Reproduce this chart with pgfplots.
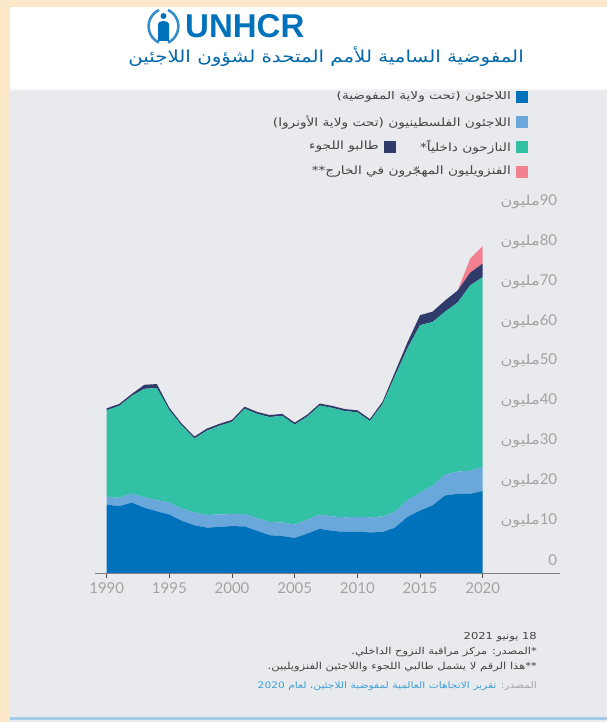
\documentclass[border=0pt]{standalone}
\usepackage{fontspec}
\setmainfont{Lato}
\newfontfamily\arabicfont[Script=Arabic, FakeStretch=1.2]{DejaVu Sans}
\newfontfamily\logofont{Liberation Sans}
\usepackage{pgfplots}
\usepackage{pgfplotstable}
\pgfplotsset{compat=1.18}
\TeXXeTstate=1

\definecolor{peach}{HTML}{FBE8C9}
\definecolor{panel}{HTML}{E8EAED}
\definecolor{unblue}{HTML}{0072BC}
\definecolor{ltblue}{HTML}{6AA8DC}
\definecolor{idpcol}{HTML}{33C1A6}
\definecolor{navyc}{HTML}{2F3C6B}
\definecolor{pinkv}{HTML}{F3808F}
\definecolor{ticklab}{HTML}{A3A3A3}
\definecolor{txt}{HTML}{444444}
\definecolor{linkc}{HTML}{3AA0D8}

\newcommand\mil[1]{{\arabicfont\fontsize{13.5}{14}\selectfont\beginR مليون\endR}#1}
\newcommand\ar[1]{{\arabicfont\beginR #1\endR}}

\pgfplotstableread{
year ref unrwa idp asy ven
1990 17.2 2.0 21.7 0.5 0
1991 16.8 2.1 23.1 0.5 0
1992 17.7 2.3 24.5 0.5 0
1993 16.4 2.6 27.3 1.0 0
1994 15.5 2.8 28.2 1.0 0
1995 14.7 3.0 23.2 0.6 0
1996 13.1 3.1 20.8 0.5 0
1997 12.0 3.2 18.6 0.5 0
1998 11.4 3.2 21.2 0.5 0
1999 11.6 3.1 22.3 0.5 0
2000 11.8 3.0 23.2 0.5 0
2001 11.7 3.1 26.5 0.5 0
2002 10.6 3.2 26.2 0.5 0
2003 9.5 3.3 26.4 0.5 0
2004 9.3 3.4 26.8 0.5 0
2005 8.8 3.4 25.1 0.5 0
2006 9.9 3.5 25.9 0.5 0
2007 11.1 3.6 27.4 0.5 0
2008 10.6 3.6 27.3 0.5 0
2009 10.3 3.7 26.7 0.5 0
2010 10.4 3.7 26.3 0.5 0
2011 10.2 3.8 24.2 0.5 0
2012 10.3 3.9 28.2 0.6 0
2013 11.4 4.0 34.1 1.0 0
2014 14.1 4.2 38.2 1.5 0
2015 15.7 4.5 42.1 2.5 0
2016 17.0 4.9 41.2 2.6 0
2017 19.5 5.3 40.9 2.8 0
2018 19.9 5.6 42.5 3.0 0
2019 19.9 5.8 46.6 3.2 3.5
2020 20.6 6.0 47.8 3.4 4.4
}\datatable

\begin{document}
\begin{tikzpicture}[x=1pt,y=1pt]
% background
\fill[peach] (0,0) rectangle (607,722);
\fill[panel] (10,0) rectangle (607,634);
\fill[ltblue!60] (10,2) rectangle (607,5);

% legend (RTL)
\begin{scope}[every node/.style={font=\arabicfont\fontsize{11.4}{13}\selectfont, text=txt, inner sep=0pt}]
\fill[unblue] (516,619) rectangle (528,631);
\node[anchor=east] at (511,625) {\ar{اللاجئون (تحت ولاية المفوضية)}};
\fill[ltblue] (516,594) rectangle (528,606);
\node[anchor=east] at (511,600) {\ar{اللاجئون الفلسطينيون (تحت ولاية الأونروا)}};
\fill[idpcol] (516,569) rectangle (528,581);
\node[anchor=east] at (511,575) {\ar{النازحون داخلياً*}};
\fill[navyc] (384,569) rectangle (396,581);
\node[anchor=east] at (379,575) {\ar{طالبو اللجوء}};
\fill[pinkv] (516,544) rectangle (528,556);
\node[anchor=east] at (511,550) {\ar{الفنزويليون المهجّرون في الخارج**}};
\end{scope}

% header drawn over legend top
\fill[white] (10,633) rectangle (607,715);
\fill[black!5] (10,631) rectangle (607,633);
% logo
\draw[unblue!80, line width=2.6pt] (159,712) arc[start angle=115, end angle=245, radius=18];
\draw[unblue!80, line width=2.6pt] (168,712) arc[start angle=65, end angle=-65, radius=18];
\fill[unblue] (163.5,706) circle (3);
\fill[unblue] (158,681) -- (158,698) .. controls (158.5,702) and (168.5,702) .. (169,698) -- (169,681) -- cycle;
\node[anchor=west, inner sep=0pt, text=unblue, font=\logofont\bfseries\fontsize{33}{33}\selectfont] at (185,696) {UNHCR};
\node[inner sep=0pt, text=unblue!90!black, font=\arabicfont\fontsize{16.5}{18}\selectfont] at (326,665) {\ar{المفوضية السامية للأمم المتحدة لشؤون اللاجئين}};

\begin{axis}[
  at={(106.7pt,149pt)}, anchor=south west,
  width=376pt, height=358pt, scale only axis,
  xmin=1990, xmax=2020, ymin=0, ymax=90,
  stack plots=y,
  clip=false,
  axis line style={draw=none},
  xtick={1990,1995,...,2020},
  xtick pos=bottom, xtick align=outside,
  major tick length=5pt,
  x tick style={black!70, line width=0.9pt},
  ytick={0,10,...,90},
  ytick pos=right, yticklabel pos=right,
  y tick style={draw=none},
  yticklabels={0,\mil{10},\mil{20},\mil{30},\mil{40},\mil{50},\mil{60},\mil{70},\mil{80},\mil{90}},
  /pgf/number format/1000 sep={},
  /pgf/number format/assume math mode=true,
  x tick label style={text=ticklab, font=\fontsize{15}{15}\selectfont, yshift=-1pt},
  y tick label style={text=ticklab, font=\fontsize{15}{15}\selectfont, anchor=east, xshift=78pt, yshift=13pt},
]
\addplot[fill=unblue, draw=none] table[x=year, y=ref] {\datatable} \closedcycle;
\addplot[fill=ltblue, draw=none] table[x=year, y=unrwa] {\datatable} \closedcycle;
\addplot[fill=idpcol, draw=none] table[x=year, y=idp] {\datatable} \closedcycle;
\addplot[fill=navyc, draw=none] table[x=year, y=asy] {\datatable} \closedcycle;
\addplot[fill=pinkv, draw=none] table[x=year, y=ven] {\datatable} \closedcycle;
\end{axis}
\draw[black!50, line width=0.8pt] (95,149) -- (560,149);

% notes
\begin{scope}[every node/.style={font=\arabicfont\fontsize{9.6}{11}\selectfont, text=txt, inner sep=0pt, anchor=east}]
\node at (537,85) {\ar{18 يونيو 2021}};
\node at (537,70) {\ar{*المصدر: مركز مراقبة النزوح الداخلي.}};
\node at (537,55) {\ar{**هذا الرقم لا يشمل طالبي اللجوء واللاجئين الفنزويليين.}};
\node[font=\arabicfont\fontsize{8.9}{10}\selectfont, text=ticklab] (src) at (537,36) {\ar{المصدر:}};
\node[font=\arabicfont\fontsize{8.9}{10}\selectfont, text=linkc] at ([xshift=-4pt]src.west) {\ar{تقرير الاتجاهات العالمية لمفوضية اللاجئين، لعام \beginL 2020\endL}};
\end{scope}
\end{tikzpicture}
\end{document}
